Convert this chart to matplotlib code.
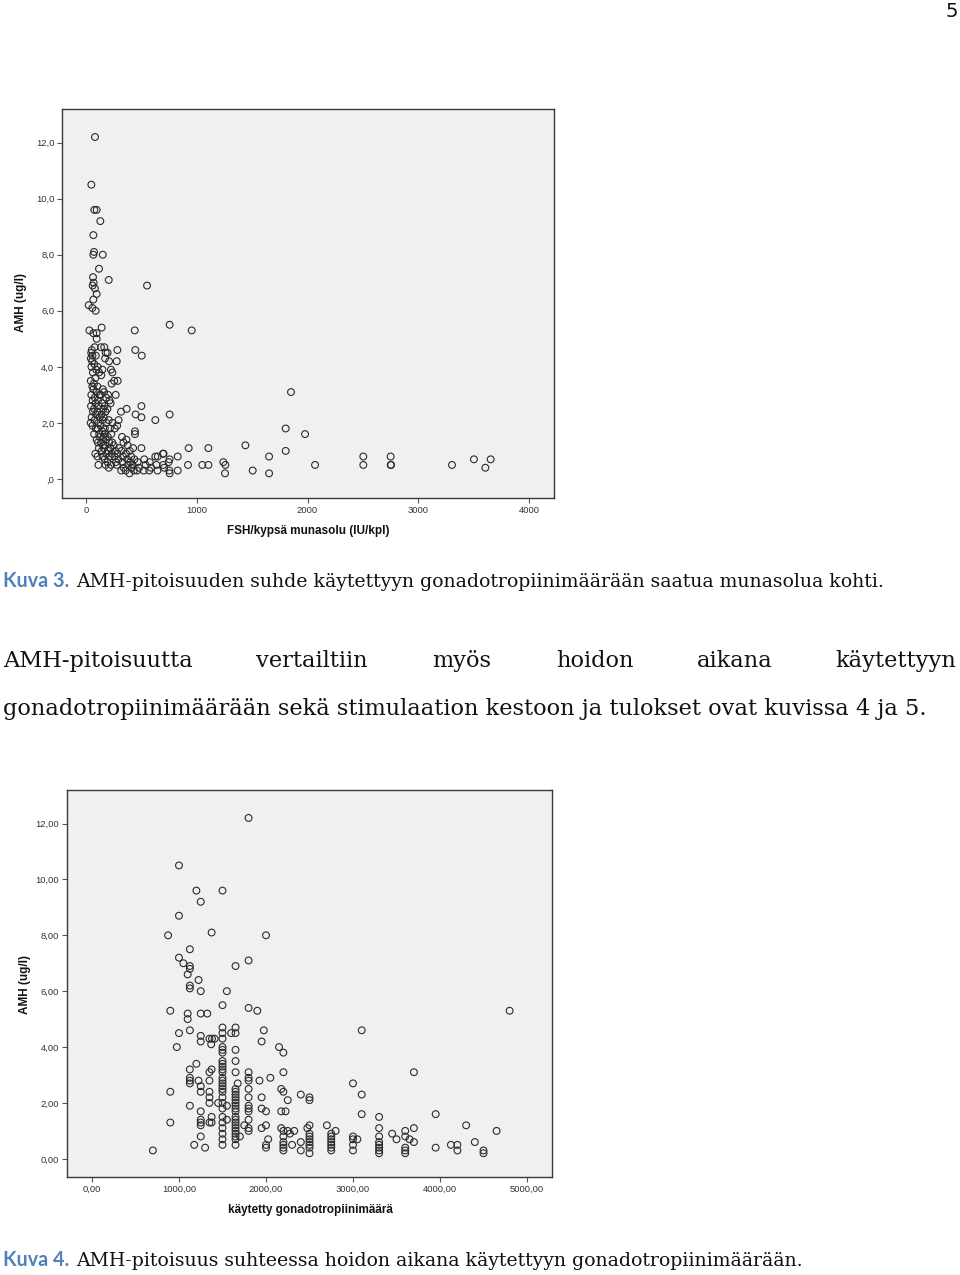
import matplotlib
matplotlib.use('Agg')
import matplotlib.pyplot as plt
from matplotlib.ticker import FuncFormatter

# Kuva 3: FSH / kypsä munasolu vs AMH
kuva3 = [
    (30, 5.3), (755, 5.5), (954, 5.3), (440, 5.3), (445, 4.6), (503, 4.4), (283, 4.6), (277, 4.2),
    (1851, 3.1), (1803, 1.8), (1978, 1.6), (1439, 1.2), (1105, 1.1), (927, 1.1), (500, 1.1),
    (1803, 1.0), (1653, 0.8), (2068, 0.5), (1653, 0.2), (1505, 0.3), (1255, 0.2), (1240, 0.6),
    (1258, 0.5), (1105, 0.5), (1050, 0.5), (921, 0.5), (755, 2.3), (626, 2.1), (500, 2.2),
    (448, 2.3), (500, 2.6), (367, 2.5), (316, 2.4), (442, 1.7), (442, 1.6), (828, 0.8), (828, 0.3),
    (755, 0.7), (755, 0.2), (695, 0.9), (626, 0.8),
    (2504, 0.8), (2504, 0.5), (2751, 0.8), (2751, 0.5), (2755, 0.5), (3305, 0.5), (3503, 0.7),
    (3606, 0.4), (3654, 0.7),
    (81, 12.2), (48, 10.5), (75, 9.6), (96, 9.6), (129, 9.2), (66, 8.7), (72, 8.1), (66, 8.0),
    (151, 8.0), (117, 7.5), (63, 7.2), (205, 7.1), (69, 7.0), (60, 6.9), (551, 6.9), (80, 6.8),
    (96, 6.6), (66, 6.4), (24, 6.2), (57, 6.1), (87, 6.0), (66, 5.2), (96, 5.2), (141, 5.4), (96, 5.0),
    # tiheä ryhmä
    (52, 4.6), (47, 4.5), (58, 4.4), (44, 4.3), (55, 4.2), (49, 4.0), (62, 3.8), (43, 3.5),
    (57, 3.3), (66, 3.2), (48, 3.0), (60, 2.8), (45, 2.6), (63, 2.4), (51, 2.2), (42, 2.0), (58, 1.9),
    (78, 4.7), (88, 4.4), (74, 4.1), (92, 3.9), (83, 3.6), (71, 3.4), (95, 3.1), (79, 2.9),
    (86, 2.7), (72, 2.5), (91, 2.3), (77, 2.1), (89, 1.8), (73, 1.6), (96, 1.4), (84, 0.9),
    (105, 4.0), (118, 3.8), (102, 3.3), (121, 3.0), (108, 2.8), (114, 2.6), (101, 2.4), (125, 2.2),
    (111, 2.0), (104, 1.8), (119, 1.6), (128, 1.5), (107, 1.3), (116, 1.1), (103, 0.8), (112, 0.5),
    (135, 4.7), (148, 3.9), (137, 3.7), (152, 3.2), (133, 3.0), (145, 2.7), (156, 2.5), (139, 2.3),
    (150, 2.1), (131, 1.9), (147, 1.7), (158, 1.5), (136, 1.3), (153, 1.2), (142, 1.0), (149, 0.8),
    (165, 4.7), (178, 4.5), (172, 4.3), (163, 3.1), (181, 2.9), (168, 2.6), (176, 2.4), (161, 2.2),
    (184, 2.0), (170, 1.8), (166, 1.6), (179, 1.4), (174, 1.2), (162, 1.1), (183, 0.9), (169, 0.7), (177, 0.5),
    (195, 4.5), (208, 4.2), (199, 3.0), (212, 2.8), (193, 2.5), (205, 2.1), (215, 1.8), (197, 1.5),
    (209, 1.3), (201, 1.0), (214, 0.8), (194, 0.6), (206, 0.4),
    (225, 3.9), (238, 3.8), (231, 3.4), (222, 2.7), (240, 2.0), (228, 1.6), (236, 1.3), (221, 1.1),
    (233, 0.9), (226, 0.5),
    (254, 3.5), (268, 3.0), (259, 1.8), (251, 1.2), (265, 1.0), (257, 0.8), (270, 0.6),
    (286, 3.5), (294, 2.1), (281, 1.9), (298, 1.1), (284, 0.9), (292, 0.7), (279, 0.5),
    (325, 1.5), (338, 1.3), (321, 1.0), (334, 0.8), (329, 0.6), (340, 0.4), (318, 0.3),
    (365, 1.4), (376, 1.2), (361, 0.9), (372, 0.7), (380, 0.5), (358, 0.3),
    (395, 1.0), (408, 0.8), (399, 0.6), (411, 0.4), (392, 0.2),
    (425, 1.1), (437, 0.7), (421, 0.5), (433, 0.3),
    (466, 0.6), (478, 0.4), (462, 0.3),
    (526, 0.7), (538, 0.5), (521, 0.3),
    (575, 0.6), (588, 0.4), (571, 0.3),
    (636, 0.5), (645, 0.3), (648, 0.8),
    (697, 0.5), (706, 0.4), (700, 0.9),
    (746, 0.6), (752, 0.3),
]
fsh3 = [p[0] for p in kuva3]
amh3 = [p[1] for p in kuva3]

# Kuva 4: käytetty gonadotropiinimäärä vs AMH
kuva4 = [
    (1800, 12.2), (1000, 10.5), (1200, 9.6), (1500, 9.6), (1250, 9.2), (1000, 8.7), (875, 8.0),
    (1375, 8.1), (2000, 8.0), (1125, 7.5), (1000, 7.2), (1050, 7.0), (1125, 6.9), (1125, 6.8),
    (1650, 6.9), (1800, 7.1), (1100, 6.6), (1225, 6.4), (1125, 6.2), (1125, 6.1), (1250, 6.0), (1550, 6.0),
    (900, 5.3), (1100, 5.2), (1100, 5.0), (1250, 5.2), (1325, 5.2), (1500, 5.5), (1800, 5.4), (1900, 5.3),
    (1000, 4.5), (1125, 4.6), (975, 4.0), (1250, 4.4), (1250, 4.2), (1350, 4.3), (1380, 4.3), (1410, 4.3),
    (1370, 4.1), (1500, 4.7), (1500, 4.5), (1500, 4.3), (1500, 4.0), (1500, 3.9), (1500, 3.8),
    (1600, 4.5), (1650, 4.5), (1650, 4.7), (1650, 3.9), (1650, 3.5), (1650, 3.1), (1975, 4.6),
    (1950, 4.2), (2150, 4.0), (2200, 3.8), (2200, 3.1), (3100, 4.6), (4800, 5.3), (3700, 3.1),
    (1500, 3.5), (1500, 3.4), (1500, 3.3), (1500, 3.2), (1500, 3.1), (1500, 2.9), (1500, 2.8),
    (1500, 2.7), (1500, 2.6), (1500, 2.5), (1500, 2.4), (1500, 2.2), (1500, 2.0), (1500, 1.8),
    (1500, 1.5), (1500, 1.3), (1500, 1.1), (1500, 0.9), (1500, 0.7), (1500, 0.5),
    (1650, 2.5), (1650, 2.4), (1650, 2.3), (1650, 2.2), (1650, 2.1), (1650, 2.0), (1650, 1.9),
    (1650, 1.8), (1650, 1.7), (1650, 1.5), (1650, 1.4), (1650, 1.3), (1650, 1.2), (1650, 1.1),
    (1650, 1.0), (1650, 0.9), (1650, 0.8), (1650, 0.7), (1650, 0.5),
    (1800, 3.1), (1800, 2.9), (1800, 2.8), (1800, 2.5), (1800, 2.2), (1800, 1.9), (1800, 1.8),
    (1800, 1.7), (1800, 1.4), (1800, 1.1), (1800, 1.0),
    (1125, 3.2), (1125, 2.9), (1125, 2.8), (1125, 2.7), (1200, 3.4), (1225, 2.8), (1250, 2.6),
    (1250, 2.4), (1125, 1.9), (1250, 1.7), (1250, 1.4), (1250, 1.3), (1250, 1.2), (1250, 0.8),
    (1175, 0.5), (1300, 0.4), (1350, 3.1), (1350, 2.8), (1375, 3.2), (1350, 2.4), (1350, 2.2),
    (1350, 2.0), (1375, 1.5), (1375, 1.3), (1350, 1.3), (1450, 2.0), (1550, 1.9), (1550, 1.4),
    (1700, 0.8), (1750, 1.2), (1675, 2.7),
    (900, 2.4), (900, 1.3), (700, 0.3),
    (1925, 2.8), (2050, 2.9), (1950, 2.2), (1950, 1.8), (2000, 1.7), (1950, 1.1), (2000, 1.2),
    (2025, 0.7), (2000, 0.5), (2000, 0.4),
    (2175, 2.5), (2200, 2.4), (2250, 2.1), (2175, 1.7), (2225, 1.7), (2175, 1.1), (2200, 1.0),
    (2200, 0.8), (2200, 0.6), (2200, 0.5), (2200, 0.4), (2200, 0.3), (2250, 1.0), (2275, 0.9),
    (2325, 1.0), (2300, 0.5),
    (2400, 2.3), (2500, 2.2), (2500, 2.1), (2400, 0.6), (2400, 0.3), (2475, 1.1), (2500, 1.2),
    (2500, 0.9), (2500, 0.8), (2500, 0.7), (2500, 0.6), (2500, 0.5), (2500, 0.4), (2500, 0.2),
    (2700, 1.2), (2800, 1.0), (2750, 0.9), (2750, 0.8), (2750, 0.7), (2750, 0.6), (2750, 0.5),
    (2750, 0.4), (2750, 0.3),
    (3000, 2.7), (3100, 2.3), (3100, 1.6), (3000, 0.8), (3000, 0.7), (3050, 0.7), (3000, 0.5), (3000, 0.3),
    (3300, 1.5), (3300, 1.1), (3300, 0.8), (3300, 0.6), (3300, 0.5), (3300, 0.4), (3300, 0.3), (3300, 0.2),
    (3450, 0.9), (3500, 0.7), (3600, 1.0), (3600, 0.8), (3600, 0.4), (3600, 0.3), (3600, 0.2),
    (3650, 0.7), (3700, 0.6), (3700, 1.1), (3950, 1.6), (3950, 0.4), (4125, 0.5), (4200, 0.5),
    (4200, 0.3), (4300, 1.2), (4400, 0.6), (4500, 0.3), (4500, 0.2), (4650, 1.0),
]
gonad4 = [p[0] for p in kuva4]
amh4 = [p[1] for p in kuva4]

yticks = [0, 2, 4, 6, 8, 10, 12]
xticks3 = [0, 1000, 2000, 3000, 4000]
xticks4 = [0, 1000, 2000, 3000, 4000, 5000]

W, H = 960, 1275
fig = plt.figure(figsize=(9.6, 12.75), dpi=100)
fig.patch.set_facecolor('white')
renderer = fig.canvas.get_renderer()


def px_axes(l, t, r, b):
    return fig.add_axes([l / W, 1 - b / H, (r - l) / W, (b - t) / H])


def fit_text(x, y, s, width, **kw):
    t = fig.text(x / W, 1 - y / H, s, fontsize=10, va='baseline', **kw)
    w = t.get_window_extent(renderer).width
    t.set_fontsize(10 * width / w)
    return t


def style(ax, xt, xfmt, yfmt, xlim, ylim):
    ax.set_facecolor('#f0f0f0')
    for sp in ax.spines.values():
        sp.set_color('#3a3a3a')
        sp.set_linewidth(1.0)
    ax.set_xlim(*xlim)
    ax.set_ylim(*ylim)
    ax.set_xticks(xt)
    ax.set_yticks(yticks)
    ax.xaxis.set_major_formatter(FuncFormatter(xfmt))
    ax.yaxis.set_major_formatter(FuncFormatter(yfmt))
    ax.tick_params(direction='out', length=3.5, width=0.8, color='#555555',
                   labelsize=6.8, labelcolor='#333333', pad=2)
    for lab in ax.get_xticklabels() + ax.get_yticklabels():
        lab.set_family('Liberation Sans')


scat = dict(s=24, facecolors='none', edgecolors='#2b2b2b', linewidths=0.8)

# ylä kuva
ax1 = px_axes(62, 109, 554, 498)
ax1.scatter(fsh3, amh3, **scat)
style(ax1, xticks3, lambda v, p: '%d' % v,
      lambda v, p: ',0' if v == 0 else ('%.1f' % v).replace('.', ','),
      (-217, 4226), (-0.68, 13.2))
fig.text(308 / W, 1 - 531 / H, 'FSH/kypsä munasolu (IU/kpl)', ha='center', va='center',
         family='Liberation Sans', weight='bold', fontsize=8.5, color='#111111')
fig.text(21 / W, 1 - 303 / H, 'AMH (ug/l)', ha='center', va='center', rotation=90,
         family='Liberation Sans', weight='bold', fontsize=8.5, color='#111111')

# ala kuva
ax2 = px_axes(67, 790, 552, 1177)
ax2.scatter(gonad4, amh4, **scat)
style(ax2, xticks4, lambda v, p: ('%.2f' % v).replace('.', ','),
      lambda v, p: ('%.2f' % v).replace('.', ','),
      (-287, 5287), (-0.65, 13.2))
fig.text(310 / W, 1 - 1210 / H, 'käytetty gonadotropiinimäärä', ha='center', va='center',
         family='Liberation Sans', weight='bold', fontsize=8.5, color='#111111')
fig.text(25 / W, 1 - 984 / H, 'AMH (ug/l)', ha='center', va='center', rotation=90,
         family='Liberation Sans', weight='bold', fontsize=8.5, color='#111111')

# sivun tekstit
blue = '#4f81bd'
fig.text(952 / W, 1 - 17 / H, '5', ha='center', va='baseline', fontsize=14,
         family='DejaVu Sans', color='#111111')

fit_text(3, 587, 'Kuva 3.', 66, family='Lato', weight='bold', color=blue)
fit_text(76, 587, 'AMH-pitoisuuden suhde käytettyyn gonadotropiinimäärään saatua munasolua kohti.',
         812, family='DejaVu Serif', color='#111111')

words = ['AMH-pitoisuutta', 'vertailtiin', 'myös', 'hoidon', 'aikana', 'käytettyyn']
word_x = [3, 256, 432, 556, 697, 835]
line2 = 'gonadotropiinimäärään sekä stimulaation kestoon ja tulokset ovat kuvissa 4 ja 5.'
t2 = fit_text(3, 715, line2, 929, family='DejaVu Serif', color='#111111')
fs = t2.get_fontsize()
for w, x in zip(words, word_x):
    fig.text(x / W, 1 - 667 / H, w, fontsize=fs, va='baseline', family='DejaVu Serif', color='#111111')

fit_text(3, 1266, 'Kuva 4.', 66, family='Lato', weight='bold', color=blue)
fit_text(76, 1266, 'AMH-pitoisuus suhteessa hoidon aikana käytettyyn gonadotropiinimäärään.',
         729, family='DejaVu Serif', color='#111111')

fig.savefig('out.png', dpi=100)
